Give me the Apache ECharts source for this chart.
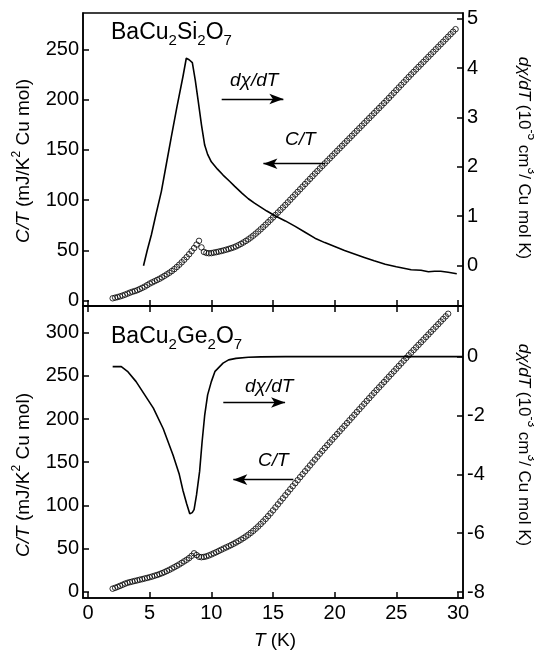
<!DOCTYPE html>
<html>
<head>
<meta charset="utf-8">
<script src="https://cdn.jsdelivr.net/npm/echarts@6/dist/echarts.min.js"></script>
<style>html,body{margin:0;padding:0;background:#fff}#c{width:534px;height:655px}</style>
</head>
<body>
<div id="c"></div>
<script>
// ---------------- data ----------------
const temps = [2.0,2.2,2.4,2.6,2.8,3.0,3.2,3.4,3.6,3.8,
4.0,4.2,4.4,4.6,4.8,5.0,5.2,5.4,5.6,5.8,
6.0,6.2,6.4,6.6,6.8,7.0,7.2,7.4,7.6,7.8,
8.0,8.2,8.4,8.6,8.8,9.0,9.2,9.4,9.6,9.8,
10.0,10.2,10.4,10.6,10.8,11.0,11.2,11.4,11.6,11.8,
12.0,12.2,12.4,12.6,12.8,13.0,13.2,13.4,13.6,13.8,
14.0,14.2,14.4,14.6,14.8,15.0,15.2,15.4,15.6,15.8,
16.0,16.2,16.4,16.6,16.8,17.0,17.2,17.4,17.6,17.8,
18.0,18.2,18.4,18.6,18.8,19.0,19.2,19.4,19.6,19.8,
20.0,20.2,20.4,20.6,20.8,21.0,21.2,21.4,21.6,21.8,
22.0,22.2,22.4,22.6,22.8,23.0,23.2,23.4,23.6,23.8,
24.0,24.2,24.4,24.6,24.8,25.0,25.2,25.4,25.6,25.8,
26.0,26.2,26.4,26.6,26.8,27.0,27.2,27.4,27.6,27.8,
28.0,28.2,28.4,28.6,28.8,29.0,29.2,29.4,29.6,29.8];

// BaCu2Si2O7  C/T (mJ/K^2 Cu mol)
const siCT = [2.4,3.0,3.6,4.3,5.1,6.0,7.0,8.0,8.9,9.6,
10.5,11.6,12.8,14.0,15.5,17.0,18.2,19.4,20.6,21.8,
23.2,24.7,26.2,27.8,29.5,31.4,33.5,35.8,38.2,40.7,
43.3,46.2,49.2,52.3,55.8,59.5,53.0,48.5,47.5,47.2,
47.3,47.8,48.3,48.8,49.4,50.0,50.7,51.4,52.2,53.0,
54.0,55.2,56.5,57.9,59.4,61.0,62.8,64.7,66.7,68.8,
71.0,73.3,75.6,78.0,80.4,82.8,85.2,87.7,90.2,92.7,
95.2,97.8,100.4,103.0,105.6,108.2,110.8,113.4,116.0,118.6,
121.2,123.8,126.4,128.9,131.5,134.0,136.5,139.0,141.5,144.0,
146.5,149.0,151.5,154.0,156.5,159.0,161.5,164.0,166.5,169.0,
171.5,174.0,176.5,179.0,181.5,184.0,186.5,189.0,191.5,194.0,
196.5,199.0,201.6,204.2,206.8,209.4,212.0,214.6,217.2,219.8,
222.4,225.0,227.5,230.0,232.5,235.0,237.5,240.0,242.5,245.0,
247.5,250.0,252.5,255.0,257.5,260.0,262.5,265.0,267.5,270.0];

// BaCu2Si2O7  dchi/dT
const siDchiT = [4.5,4.8,5.14,5.5,5.95,6.35,6.76,7.2,7.7,7.97,8.2,8.46,8.7,8.92,9.2,9.46,9.7,10.0,10.5,10.95,11.5,11.9,12.5,13.0,13.5,14.0,14.5,15.2,16.0,16.8,17.6,18.4,19.2,20.0,20.8,21.6,22.4,23.2,24.1,25.0,26.2,27.0,27.6,28.1,28.6,29.2,29.9];
const siDchi  = [-0.01,0.3,0.62,1.02,1.5,2.05,2.61,3.2,3.83,4.2,4.17,4.11,3.75,3.36,2.85,2.44,2.25,2.1,1.95,1.83,1.7,1.6,1.46,1.35,1.26,1.18,1.1,1.0,0.9,0.79,0.67,0.55,0.46,0.38,0.3,0.23,0.16,0.09,0.02,-0.03,-0.09,-0.1,-0.13,-0.12,-0.12,-0.14,-0.17];

// BaCu2Ge2O7  C/T (T = 2.0 ... 29.2)
const geCT = [3.5,4.5,5.6,6.8,8.0,9.3,10.3,11.1,11.8,12.5,
13.2,13.9,14.6,15.3,16.0,16.8,17.6,18.5,19.4,20.4,
21.5,22.7,24.0,25.4,26.9,28.4,30.0,31.6,33.4,35.2,
37.0,39.0,41.5,44.5,42.5,40.5,40.0,40.3,41.0,42.0,
43.2,44.5,45.8,47.2,48.6,50.0,51.3,52.6,54.0,55.5,
57.0,58.6,60.3,62.1,64.0,66.0,68.2,70.5,73.0,75.6,
78.4,81.3,84.3,87.5,90.8,94.2,97.7,101.2,104.7,108.2,
111.7,115.2,118.7,122.2,125.7,129.2,132.7,136.1,139.5,142.9,
146.3,149.7,153.1,156.5,159.9,163.2,166.5,169.8,173.0,176.2,
179.4,182.6,185.8,189.0,192.2,195.4,198.6,201.8,205.0,208.2,
211.4,214.6,217.8,221.0,224.2,227.4,230.5,233.6,236.7,239.8,
242.9,246.0,249.1,252.2,255.3,258.4,261.5,264.6,267.7,270.8,
273.9,277.0,280.0,283.0,286.0,289.0,292.0,295.0,298.0,301.0,
304.0,307.0,310.0,313.0,316.0,319.0,322.0];

// BaCu2Ge2O7  dchi/dT
const geDchiT = [2.0,2.7,3.2,3.9,4.6,5.3,6.1,6.9,7.4,7.7,8.0,8.25,8.45,8.6,8.8,9.05,9.25,9.46,9.7,10.0,10.3,10.95,11.4,12.0,13.0,14.0,16.0,20.0,25.0,30.4];
const geDchi  = [-0.34,-0.34,-0.5,-0.85,-1.3,-1.75,-2.45,-3.35,-4.0,-4.55,-5.0,-5.34,-5.3,-5.2,-4.7,-3.9,-2.9,-2.0,-1.3,-0.85,-0.5,-0.22,-0.11,-0.06,-0.02,-0.01,0,0,0,0];

// tick values
const xTicks = [0,5,10,15,20,25,30];
const siCTTicks = [0,50,100,150,200,250];
const siDchiTicks = [0,1,2,3,4,5];
const geCTTicks = [0,50,100,150,200,250,300];
const geDchiTicks = [-8,-6,-4,-2,0];

// ---------------- chart ----------------
const FONT = '"Liberation Sans", Arial, Helvetica, sans-serif';
const zip = (xs, ys) => ys.map((y, i) => [xs[i], y]);

function axisCommon(ticks, showLabel, margin) {
  return {
    axisLine: {show: true, onZero: false, lineStyle: {color: '#000', width: 1.5}},
    axisTick: {show: true, inside: true, length: 6, customValues: ticks, lineStyle: {color: '#000', width: 1.5}},
    axisLabel: {show: showLabel, customValues: ticks, color: '#000', fontSize: 20, fontFamily: FONT, margin: margin},
    splitLine: {show: false}
  };
}
function xAx(grid, pos, showLabel) {
  return Object.assign({type: 'value', gridIndex: grid, position: pos, min: -0.405, max: 30.405}, axisCommon(xTicks, showLabel, 5));
}
function yAx(grid, pos, min, max, ticks) {
  return Object.assign({type: 'value', gridIndex: grid, position: pos, min: min, max: max}, axisCommon(ticks, true, 4));
}
const arrowLine = (data) => ({
  silent: true, animation: false, symbol: ['none', 'arrow'], symbolSize: [8, 14],
  label: {show: false}, emphasis: {disabled: true},
  lineStyle: {color: '#000', width: 1.3, type: 'solid'},
  data: data
});
const circleStyle = {color: 'rgba(0,0,0,0)', borderColor: '#000', borderWidth: 1};

const richSub = {
  n: {fontSize: 23, lineHeight: 26, fontFamily: FONT},
  s: {fontSize: 15, lineHeight: 14, padding: [16, 0, 0, 0], fontFamily: FONT}
};
const richTitle = (fs) => ({
  i: {fontSize: fs, fontStyle: 'italic', fontFamily: FONT, lineHeight: 26},
  sup: {fontSize: 12, lineHeight: 12, padding: [0, 0, 14, 0], fontFamily: FONT}
});
function txt(x, y, text, opts) {
  return Object.assign({
    type: 'text', x: x, y: y, silent: true,
    style: Object.assign({text: text, fill: '#000', fontFamily: FONT, fontSize: 19,
      textAlign: 'left', textVerticalAlign: 'middle', align: 'left', verticalAlign: 'middle'}, opts.style || {})
  }, opts.el || {});
}

const option = {
  animation: false,
  backgroundColor: '#fff',
  grid: [
    {left: 83, right: 71, top: 13, height: 293, show: true, borderColor: '#000', borderWidth: 1.5, backgroundColor: 'transparent', containLabel: false, outerBoundsMode: 'none'},
    {left: 83, right: 71, top: 306, height: 292, show: true, borderColor: '#000', borderWidth: 1.5, backgroundColor: 'transparent', containLabel: false, outerBoundsMode: 'none'}
  ],
  xAxis: [xAx(0, 'bottom', false), xAx(1, 'bottom', true), xAx(1, 'top', false)],
  yAxis: [
    yAx(0, 'left', -5.27, 286.1, siCTTicks),
    yAx(0, 'right', -0.826, 5.118, siDchiTicks),
    yAx(1, 'left', -7.28, 331.0, geCTTicks),
    yAx(1, 'right', -8.2, 1.719, geDchiTicks)
  ],
  series: [
    {type: 'scatter', xAxisIndex: 0, yAxisIndex: 0, data: zip(temps, siCT), symbol: 'circle', symbolSize: 5.5, itemStyle: circleStyle, silent: true,
     markLine: arrowLine([[{coord: [10.84, 200.6]}, {coord: [15.84, 200.6]}], [{coord: [19.22, 136.2]}, {coord: [14.22, 136.2]}]])},
    {type: 'line', xAxisIndex: 0, yAxisIndex: 1, data: zip(siDchiT, siDchi), showSymbol: false, symbol: 'none', lineStyle: {color: '#000', width: 1.6}, silent: true},
    {type: 'scatter', xAxisIndex: 1, yAxisIndex: 2, data: zip(temps, geCT), symbol: 'circle', symbolSize: 5.5, itemStyle: circleStyle, silent: true,
     markLine: arrowLine([[{coord: [10.97, 219.2]}, {coord: [15.98, 219.2]}], [{coord: [16.65, 129.8]}, {coord: [11.78, 129.8]}]])},
    {type: 'line', xAxisIndex: 1, yAxisIndex: 3, data: zip(geDchiT, geDchi), showSymbol: false, symbol: 'none', lineStyle: {color: '#000', width: 1.6}, silent: true}
  ],
  graphic: [
    txt(111, 33, '{n|BaCu}{s|2}{n|Si}{s|2}{n|O}{s|7}', {style: {rich: richSub}}),
    txt(111, 337, '{n|BaCu}{s|2}{n|Ge}{s|2}{n|O}{s|7}', {style: {rich: richSub}}),
    txt(230, 81, 'dχ/dT', {style: {fontStyle: 'italic'}}),
    txt(285, 140, 'C/T', {style: {fontStyle: 'italic'}}),
    txt(245, 387, 'dχ/dT', {style: {fontStyle: 'italic'}}),
    txt(258, 461, 'C/T', {style: {fontStyle: 'italic'}}),
    txt(24, 161, '{i|C/T} (mJ/K{sup|2} Cu mol)', {style: {rich: richTitle(19), lineHeight: 26, textAlign: 'center', align: 'center'}, el: {rotation: Math.PI / 2}}),
    txt(24, 475, '{i|C/T} (mJ/K{sup|2} Cu mol)', {style: {rich: richTitle(19), lineHeight: 26, textAlign: 'center', align: 'center'}, el: {rotation: Math.PI / 2}}),
    txt(524, 158, '{i|dχ/dT} (10{sup|-5} cm{sup|3}/ Cu mol K)', {style: {fontSize: 17, rich: richTitle(17), lineHeight: 26, textAlign: 'center', align: 'center'}, el: {rotation: -Math.PI / 2}}),
    txt(524, 445, '{i|dχ/dT} (10{sup|-3} cm{sup|3}/ Cu mol K)', {style: {fontSize: 17, rich: richTitle(17), lineHeight: 26, textAlign: 'center', align: 'center'}, el: {rotation: -Math.PI / 2}}),
    txt(275, 641, '{i|T} (K)', {style: {rich: richTitle(19), lineHeight: 26, textAlign: 'center', align: 'center'}})
  ]
};

const chart = echarts.init(document.getElementById('c'), null, {renderer: 'canvas'});
chart.setOption(option);
</script>
</body>
</html>
